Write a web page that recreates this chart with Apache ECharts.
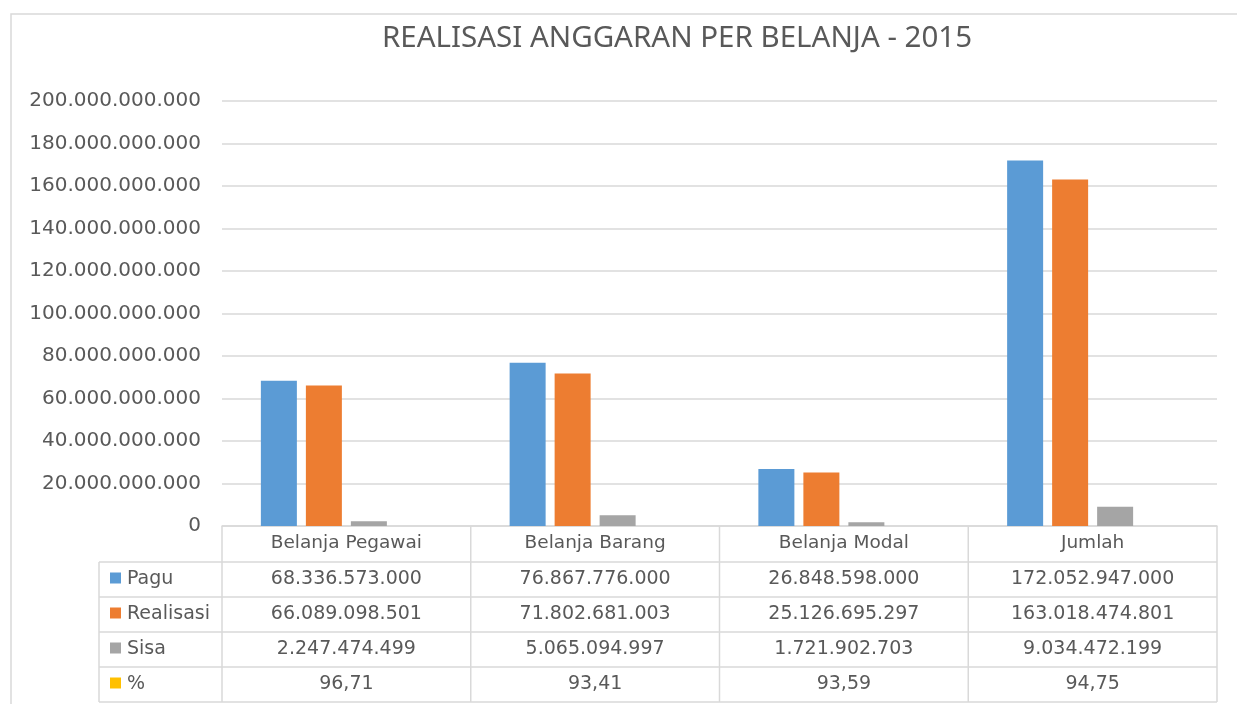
<!DOCTYPE html>
<html>
<head>
<meta charset="utf-8">
<title>Realisasi Anggaran per Belanja - 2015</title>
<script src="https://cdn.jsdelivr.net/npm/echarts@6/dist/echarts.min.js"></script>
<style>
  html, body { margin: 0; padding: 0; background: #ffffff; }
  #chart { width: 1237px; height: 704px; }
</style>
</head>
<body>
<div id="chart"></div>
<script>
const categories = ["Belanja Pegawai", "Belanja Barang", "Belanja Modal", "Jumlah"];
const pagu = [68336573000, 76867776000, 26848598000, 172052947000];
const realisasi = [66089098501, 71802681003, 25126695297, 163018474801];
const sisa = [2247474499, 5065094997, 1721902703, 9034472199];
const persen = [96.71, 93.41, 93.59, 94.75];

const seriesNames = ["Pagu", "Realisasi", "Sisa", "%"];
const colors = ["#5b9bd5", "#ed7d31", "#a5a5a5", "#ffc000"];
const yTicks = { min: 0, max: 200000000000, interval: 20000000000 };

// layout
const GL = 222, GR = 1217, GT = 101, GB = 526;
const ROW_H = 35;
const TABLE_LEFT = 99;
const textColor = "#595959";
const lineColor = "#d9d9d9";
const font = "DejaVu Sans";

function fmt(v) {
  return Math.round(v).toString().replace(/\B(?=(\d{3})+(?!\d))/g, ".");
}
function fmtPct(v) {
  return v.toFixed(2).replace(".", ",");
}

const chart = echarts.init(document.getElementById("chart"));

// data table under the axis
function buildTable() {
  const els = [];
  const colW = (GR - GL) / categories.length;
  const rows = [
    pagu.map(fmt),
    realisasi.map(fmt),
    sisa.map(fmt),
    persen.map(fmtPct),
  ];
  const headTop = GB;
  const bodyTop = headTop + 36;
  const bottom = bodyTop + ROW_H * rows.length;

  // horizontal lines
  for (let r = 0; r <= rows.length; r++) {
    const y = bodyTop + r * ROW_H;
    els.push({
      type: "line",
      shape: { x1: TABLE_LEFT, y1: y, x2: GR, y2: y },
      style: { stroke: lineColor, lineWidth: 1.5 },
    });
  }
  // vertical lines
  for (let c = 0; c <= categories.length; c++) {
    const x = GL + c * colW;
    els.push({
      type: "line",
      shape: { x1: x, y1: headTop, x2: x, y2: bottom },
      style: { stroke: lineColor, lineWidth: 1.5 },
    });
  }
  els.push({
    type: "line",
    shape: { x1: TABLE_LEFT, y1: bodyTop, x2: TABLE_LEFT, y2: bottom },
    style: { stroke: lineColor, lineWidth: 1.5 },
  });

  rows.forEach((vals, r) => {
    const cy = bodyTop + r * ROW_H + ROW_H / 2;
    // legend key + name
    els.push({
      type: "rect",
      shape: { x: 110, y: cy - 7, width: 11, height: 11 },
      style: { fill: colors[r] },
    });
    els.push({
      type: "text",
      x: 127,
      y: cy,
      style: {
        text: seriesNames[r],
        fill: textColor,
        font: "19px '" + font + "'",
        textVerticalAlign: "middle",
      },
    });
    vals.forEach((txt, c) => {
      els.push({
        type: "text",
        x: GL + c * colW + colW / 2,
        y: cy,
        style: {
          text: txt,
          fill: textColor,
          font: "19px '" + font + "'",
          textAlign: "center",
          textVerticalAlign: "middle",
        },
      });
    });
  });

  // outer chart frame
  els.push({
    type: "rect",
    shape: { x: 11, y: 14, width: 1240, height: 700 },
    style: { fill: "none", stroke: lineColor, lineWidth: 1.5 },
    z: -1,
  });
  return els;
}

const option = {
  animation: false,
  title: {
    text: "REALISASI ANGGARAN PER BELANJA - 2015",
    left: 672,
    top: 19,
    textAlign: "center",
    textStyle: {
      fontFamily: "Noto Sans",
      fontWeight: "normal",
      fontSize: 29.5,
      color: textColor,
    },
  },
  grid: { left: GL, right: 1237 - GR, top: GT, bottom: 704 - GB },
  xAxis: {
    type: "category",
    data: categories,
    axisLine: { show: true, lineStyle: { color: lineColor, width: 1.5 } },
    axisTick: { show: false },
    axisLabel: {
      color: textColor,
      fontFamily: font,
      fontSize: 18.5,
      margin: 8,
    },
  },
  yAxis: {
    type: "value",
    min: yTicks.min,
    max: yTicks.max,
    interval: yTicks.interval,
    axisLine: { show: false },
    axisTick: { show: false },
    axisLabel: {
      color: textColor,
      fontFamily: font,
      fontSize: 20,
      margin: 21,
      formatter: (v) => fmt(v),
    },
    splitLine: { lineStyle: { color: lineColor, width: 1.5 } },
  },
  series: [pagu, realisasi, sisa, persen].map((d, i) => ({
    name: seriesNames[i],
    type: "bar",
    data: d,
    barWidth: 36,
    barGap: "25%",
    itemStyle: { color: colors[i] },
  })),
  graphic: buildTable(),
};

chart.setOption(option);
</script>
</body>
</html>
